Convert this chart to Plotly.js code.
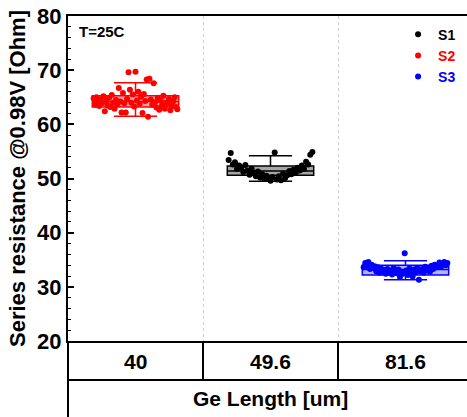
<!DOCTYPE html>
<html>
<head>
<meta charset="utf-8">
<script src="https://cdn.plot.ly/plotly-3.0.1.min.js"></script>
<style>
  html, body { margin: 0; padding: 0; overflow: hidden; background: #fff; }
  #chart { width: 480px; height: 417px; }
</style>
</head>
<body>
<div id="chart"></div>
<script>
// Ge length groups shown along the x axis
const categories = ['40', '49.6', '81.6'];

// Series resistance samples [Ohm], in measurement order
const s1Values = [53.4, 54.7, 52.6, 53.0, 51.8, 52.4, 52.1, 51.2, 52.5, 51.5, 50.7, 51.8, 51.0, 50.4, 51.3,
  50.2, 50.8, 49.9, 50.5, 50.1, 49.6, 50.3, 54.8, 49.8, 50.4, 49.7, 50.9, 50.1, 50.6, 51.4, 50.8, 51.6,
  51.0, 52.0, 51.5, 52.4, 51.8, 53.1, 52.6, 54.4, 54.9];
const s2Values = [64.8, 63.6, 65.0, 64.1, 63.4, 64.6, 63.9, 65.2, 62.4, 64.3, 63.5, 64.9, 63.2, 65.4, 64.0,
  62.9, 64.5, 63.7, 66.7, 64.2, 62.2, 65.8, 63.9, 62.2, 64.7, 69.6, 66.4, 64.0, 65.5, 63.3, 69.7, 64.4,
  66.0, 63.8, 65.1, 62.1, 65.6, 64.3, 68.3, 61.4, 68.4, 64.6, 63.6, 67.6, 64.1, 63.1, 64.9, 62.7, 64.4,
  63.5, 65.3, 62.9, 64.0, 63.8, 64.7, 62.6, 63.4, 64.2, 65.0, 63.2, 62.8];
const s3Values = [33.6, 34.4, 33.9, 34.6, 33.3, 34.1, 33.5, 33.8, 32.9, 33.6, 32.6, 33.4, 32.8, 33.1, 32.4,
  33.3, 32.7, 33.0, 32.3, 33.5, 32.9, 32.5, 33.2, 31.8, 32.8, 32.4, 36.2, 33.0, 32.2, 33.4, 32.6, 31.9,
  33.2, 32.7, 33.5, 31.3, 32.9, 33.3, 32.6, 33.7, 33.0, 33.4, 32.8, 33.9, 33.3, 34.1, 33.6, 33.9, 34.5,
  33.7, 34.2, 34.6, 34.0, 34.4];

// Box statistics per series: [lower whisker, Q1, median, Q3, upper whisker]
const s1Box = [49.5, 50.6, 51.4, 52.3, 54.2];
const s2Box = [61.5, 63.2, 64.2, 65.3, 67.7];
const s3Box = [31.3, 32.2, 33.2, 34.0, 34.8];

const FONT = 'Arial, "Liberation Sans", sans-serif';
const BOX_WIDTH = 0.64;
const SPREAD = 0.62;

// series definitions: name, values, box stats, category index, colours
const series = [
  { name: 'S1', values: s1Values, box: s1Box, pos: 1, color: '#000000', fill: 'rgba(0,0,0,0.35)' },
  { name: 'S2', values: s2Values, box: s2Box, pos: 0, color: '#ff0000', fill: 'rgba(255,0,0,0.35)' },
  { name: 'S3', values: s3Values, box: s3Box, pos: 2, color: '#0000ff', fill: 'rgba(0,0,255,0.3)' }
];

const boxTraces = series.map(s => ({
  type: 'box',
  x: [s.pos],
  lowerfence: [s.box[0]],
  q1: [s.box[1]],
  median: [s.box[2]],
  q3: [s.box[3]],
  upperfence: [s.box[4]],
  width: BOX_WIDTH,
  whiskerwidth: 0.5,
  boxpoints: false,
  line: { color: s.color, width: 1.5 },
  fillcolor: s.fill,
  showlegend: false,
  hoverinfo: 'skip'
}));

// sample points spread across the box width in measurement order
const pointTraces = series.map(s => {
  const n = s.values.length;
  return {
    type: 'scatter',
    mode: 'markers',
    name: '<span style="color:' + s.color + '">' + s.name + '</span>',
    x: s.values.map((v, i) => s.pos + (i / (n - 1) - 0.5) * SPREAD),
    y: s.values,
    marker: { color: s.color, size: 6 }
  };
});

const layout = {
  width: 480,
  height: 417,
  margin: { l: 68, r: 7, t: 16, b: 76 },
  paper_bgcolor: '#ffffff',
  plot_bgcolor: '#ffffff',
  font: { family: FONT, color: '#000000' },
  showlegend: true,
  legend: {
    x: 0.815, y: 0.992, xanchor: 'left', yanchor: 'top',
    bgcolor: 'rgba(0,0,0,0)',
    font: { family: FONT, size: 14, weight: 'bold' },
    itemwidth: 30,
    tracegroupgap: 0
  },
  xaxis: {
    type: 'linear',
    range: [-0.5, 2.5],
    showticklabels: false,
    ticks: '',
    tick0: 0.5,
    dtick: 1,
    showgrid: true,
    griddash: 'dot',
    gridcolor: '#cfcfcf',
    gridwidth: 1,
    zeroline: false,
    showline: true,
    mirror: true,
    linecolor: '#000000',
    linewidth: 2,
    fixedrange: true
  },
  yaxis: {
    range: [20, 80],
    dtick: 10,
    ticks: 'inside',
    ticklen: 6,
    tickwidth: 2,
    tickcolor: '#000000',
    minor: { ticks: 'inside', dtick: 2, ticklen: 3, tickwidth: 1, tickcolor: '#000000' },
    showgrid: false,
    zeroline: false,
    showline: true,
    linecolor: '#000000',
    linewidth: 2,
    tickfont: { family: FONT, size: 22, weight: 'bold' },
    title: {
      text: 'Series resistance @0.98V [Ohm]',
      font: { family: FONT, size: 22, weight: 'bold' },
      standoff: 5
    },
    fixedrange: true
  },
  shapes: [
    // left frame line continuing through the category table
    { type: 'line', xref: 'paper', yref: 'paper', x0: 0, x1: 0, y0: 0, y1: -0.26,
      line: { color: '#000000', width: 2 } },
    // line between category row and axis-title row
    { type: 'line', xref: 'paper', yref: 'paper', x0: 0, x1: 1.05, y0: -0.12, y1: -0.12,
      line: { color: '#000000', width: 2 } },
    // cell separators in the category row
    { type: 'line', xref: 'x', yref: 'paper', x0: 0.5, x1: 0.5, y0: -0.12, y1: 0,
      line: { color: '#000000', width: 2 } },
    { type: 'line', xref: 'x', yref: 'paper', x0: 1.5, x1: 1.5, y0: -0.12, y1: 0,
      line: { color: '#000000', width: 2 } }
  ],
  annotations: categories.map((c, i) => ({
    text: c, xref: 'x', yref: 'paper', x: i, y: -0.062,
    xanchor: 'center', yanchor: 'middle', showarrow: false,
    font: { family: FONT, size: 21, weight: 'bold', color: '#000000' }
  })).concat([
    { text: 'Ge Length [um]', xref: 'paper', yref: 'paper', x: 0.5, y: -0.176,
      xanchor: 'center', yanchor: 'middle', showarrow: false,
      font: { family: FONT, size: 21, weight: 'bold', color: '#000000' } },
    { text: 'T=25C', xref: 'paper', yref: 'paper', x: 0.022, y: 0.952,
      xanchor: 'left', yanchor: 'middle', showarrow: false,
      font: { family: FONT, size: 15, weight: 'bold', color: '#000000' } }
  ])
};

Plotly.newPlot('chart', boxTraces.concat(pointTraces), layout, { displayModeBar: false, staticPlot: true });
</script>
</body>
</html>
